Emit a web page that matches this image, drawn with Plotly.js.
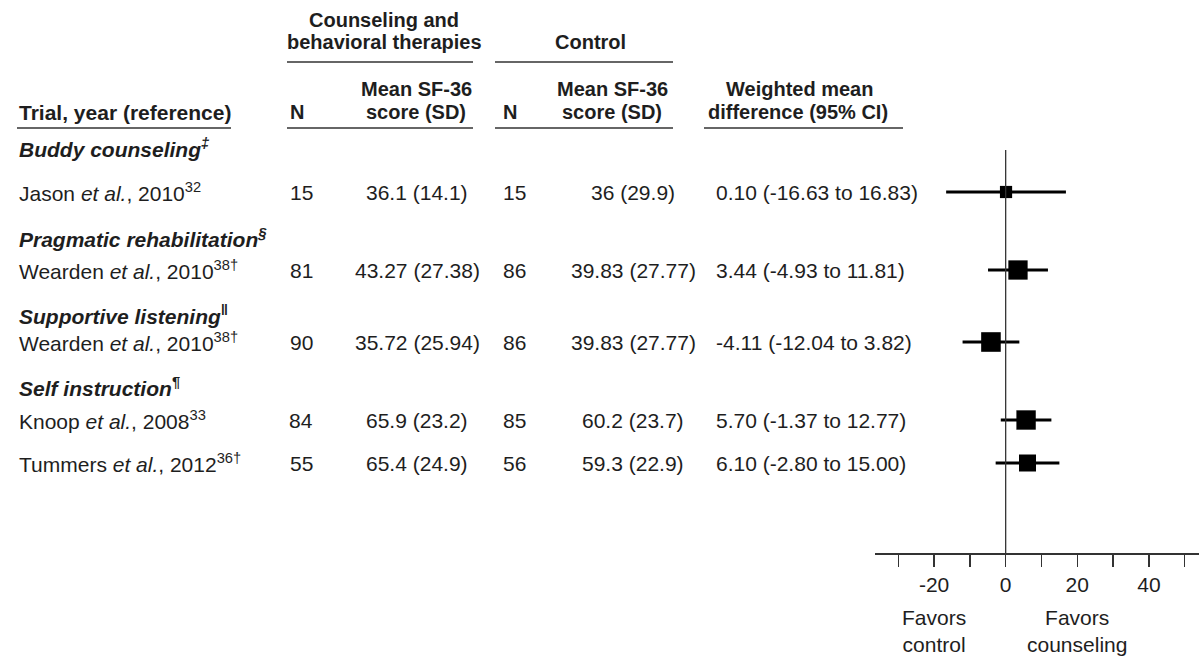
<!DOCTYPE html>
<html>
<head>
<meta charset="utf-8">
<script src="https://cdn.plot.ly/plotly-3.0.1.min.js"></script>
<style>
  html, body { margin: 0; padding: 0; background: #fff; }
  #chart { width: 1199px; height: 656px; }
</style>
</head>
<body>
<div id="chart"></div>
<script>
// Forest plot: counseling and behavioral therapies vs control, SF-36 scores

const groups = [
  "Buddy counseling<sup>‡</sup>",
  "Pragmatic rehabilitation<sup>§</sup>",
  "Supportive listening<sup>‖</sup>",
  "Self instruction<sup>¶</sup>"
];
const studies = [
  "Jason <i>et al.</i>, 2010<sup>32</sup>",
  "Wearden <i>et al.</i>, 2010<sup>38†</sup>",
  "Wearden <i>et al.</i>, 2010<sup>38†</sup>",
  "Knoop <i>et al.</i>, 2008<sup>33</sup>",
  "Tummers <i>et al.</i>, 2012<sup>36†</sup>"
];
const nTreat = [15, 81, 90, 84, 55];
const meanTreat = ["36.1 (14.1)", "43.27 (27.38)", "35.72 (25.94)", "65.9 (23.2)", "65.4 (24.9)"];
const nCtrl = [15, 86, 86, 85, 56];
const meanCtrl = ["36 (29.9)", "39.83 (27.77)", "39.83 (27.77)", "60.2 (23.7)", "59.3 (22.9)"];
const wmd = [0.10, 3.44, -4.11, 5.70, 6.10];
const ciLow = [-16.63, -4.93, -12.04, -1.37, -2.80];
const ciHigh = [16.83, 11.81, 3.82, 12.77, 15.00];
const tickValues = [-30, -20, -10, 0, 10, 20, 30, 40, 50];
const tickLabels = ["", "-20", "", "0", "", "20", "", "40", ""];

// ---- layout geometry (pixels) ----
const W = 1199, H = 656;
const axisY = 553;                       // baseline of the forest axis
const groupRowY = [148, 238, 315, 387];  // group header rows
const studyRowY = [192, 270, 342, 420, 463];
const col = { trial: 17, n1: 301, mean1: 417, n2: 514, mean2: 633, wmd: 714 };

const px = x => x / W;
const INK = "#1e1e1e";
const FONT = "Liberation Sans, Arial, sans-serif";
const FS = 21;   // body text
const HS = 20;   // column headers

const ann = [];
function txt(x, y, text, opts, size) {
  ann.push(Object.assign({
    xref: "paper", yref: "y", x: px(x), y: y, text: text,
    showarrow: false, xanchor: "center", yanchor: "middle",
    font: { family: FONT, size: size || FS, color: INK }
  }, opts || {}));
}

// column headers
txt(384, 20, "<b>Counseling and</b>", null, HS);
txt(384, 42, "<b>behavioral therapies</b>", null, HS);
txt(590, 42, "<b>Control</b>", null, HS);
txt(17, 112, "<b>Trial, year (reference)</b>", { xanchor: "left" }, 21);
txt(297, 112, "<b>N</b>", null, HS);
txt(416, 89, "<b>Mean SF-36</b>", null, HS);
txt(416, 112, "<b>score (SD)</b>", null, HS);
txt(510, 112, "<b>N</b>", null, HS);
txt(612, 89, "<b>Mean SF-36</b>", null, HS);
txt(612, 112, "<b>score (SD)</b>", null, HS);
txt(799, 89, "<b>Weighted mean</b>", null, HS);
txt(798, 112, "<b>difference (95% CI)</b>", null, HS);

// group headings
groups.forEach((g, i) => txt(col.trial, groupRowY[i], "<b><i>" + g + "</i></b>", { xanchor: "left" }));

// study rows
const fmt = v => v.toFixed(2);
studies.forEach((s, i) => {
  const y = studyRowY[i];
  txt(col.trial, y, s, { xanchor: "left" });
  txt(col.n1, y, String(nTreat[i]));
  txt(col.mean1, y, meanTreat[i]);
  txt(col.n2, y, String(nCtrl[i]));
  txt(col.mean2, y, meanCtrl[i]);
  txt(col.wmd, y, fmt(wmd[i]) + " (" + fmt(ciLow[i]) + " to " + fmt(ciHigh[i]) + ")", { xanchor: "left" });
});

// direction labels under the axis
ann.push({ xref: "x", yref: "y", x: -20, y: 631, text: "Favors<br>control", showarrow: false,
  xanchor: "center", yanchor: "middle", font: { family: FONT, size: FS, color: INK } });
ann.push({ xref: "x", yref: "y", x: 20, y: 631, text: "Favors<br>counseling", showarrow: false,
  xanchor: "center", yanchor: "middle", font: { family: FONT, size: FS, color: INK } });

// rules under the headers
const rule = (x0, x1, y) => ({ type: "line", xref: "paper", yref: "y", x0: px(x0), x1: px(x1), y0: y, y1: y,
  line: { color: "#333", width: 1.5 } });
const shapes = [
  rule(287, 473, 62), rule(495, 673, 62),
  rule(17, 231, 128), rule(287, 473, 128), rule(495, 673, 128), rule(704, 903, 128),
  // line of no effect
  { type: "line", xref: "x", yref: "y", x0: 0, x1: 0, y0: 150, y1: axisY, line: { color: "#333", width: 1.3 } }
];

// point estimates sized by total sample size, with 95% CI whiskers
const sizes = nTreat.map((n, i) => 7 + 0.95 * Math.sqrt(n + nCtrl[i]));
const trace = {
  type: "scatter", mode: "markers",
  x: wmd, y: studyRowY,
  marker: { symbol: "square", color: "#000000", opacity: 1, size: sizes, line: { width: 0, color: "#000000" } },
  opacity: 1,
  error_x: {
    type: "data", symmetric: false,
    array: ciHigh.map((h, i) => h - wmd[i]),
    arrayminus: ciLow.map((l, i) => wmd[i] - l),
    color: "#000000", thickness: 3, width: 0
  },
  cliponaxis: false, hoverinfo: "skip"
};

const layout = {
  width: W, height: H,
  margin: { l: 0, r: 0, t: 0, b: 0, pad: 0 },
  paper_bgcolor: "#fff", plot_bgcolor: "rgba(0,0,0,0)",
  showlegend: false,
  xaxis: {
    domain: [875 / W, 1], range: [-36.5, 54],
    anchor: "free", position: (H - axisY) / H,
    showgrid: false, zeroline: false,
    showline: true, linecolor: "#333", linewidth: 1.5,
    ticks: "outside", ticklen: 12, tickwidth: 1.5, tickcolor: "#333",
    tickmode: "array", tickvals: tickValues, ticktext: tickLabels,
    tickfont: { family: FONT, size: FS, color: INK }
  },
  yaxis: {
    domain: [0, 1], range: [H, 0], visible: false, fixedrange: true
  },
  annotations: ann,
  shapes: shapes
};

Plotly.newPlot("chart", [trace], layout, { staticPlot: true, displayModeBar: false });
</script>
</body>
</html>
